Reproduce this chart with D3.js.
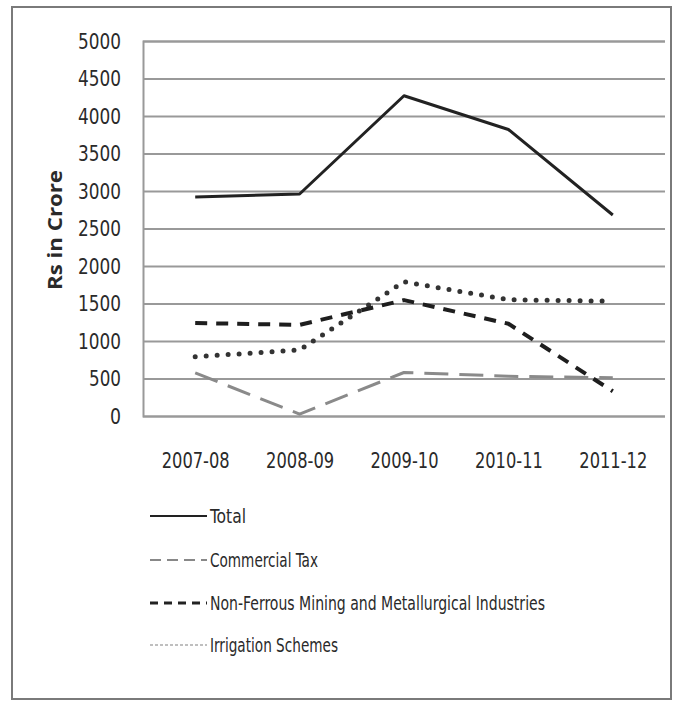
<!DOCTYPE html>
<html>
<head>
<meta charset="utf-8">
<script src="https://cdn.jsdelivr.net/npm/d3@7"></script>
<style>
  body { margin: 0; background: #fff; }
  svg { display: block; }
</style>
</head>
<body>
<div id="chart"></div>
<script>
// Years on the x axis
const years = ["2007-08", "2008-09", "2009-10", "2010-11", "2011-12"];

// Series values (Rs in Crore)
const total = [2920, 2960, 4270, 3820, 2680];
const commercialTax = [575, 25, 580, 530, 510];
const nonFerrous = [1240, 1215, 1545, 1230, 330];
const irrigation = [790, 880, 1790, 1550, 1530];

// Y tick labels
const yTicks = [0, 500, 1000, 1500, 2000, 2500, 3000, 3500, 4000, 4500, 5000];

// Legend labels
const seriesNames = ["Total", "Commercial Tax", "Non-Ferrous Mining and Metallurgical Industries", "Irrigation Schemes"];

const svgWidth = 674;
const svgHeight = 701;
const narrow = "'DejaVu Sans Condensed', 'Liberation Sans Narrow', sans-serif";

// plot box
const plot = { left: 143, right: 665, top: 41, bottom: 416 };

const svg = d3.select("#chart").append("svg")
  .attr("width", svgWidth)
  .attr("height", svgHeight);

// outer frame
svg.append("rect")
  .attr("x", 12).attr("y", 7)
  .attr("width", 659).attr("height", 692)
  .attr("fill", "#fff")
  .attr("stroke", "#7a7a7a")
  .attr("stroke-width", 2);

const x = d3.scalePoint().domain(years).range([plot.left, plot.right]).padding(0.5);
const y = d3.scaleLinear().domain([0, 5000]).range([plot.bottom, plot.top]);

// gridlines + y labels
const yAxis = d3.axisLeft(y)
  .tickValues(yTicks)
  .tickSize(-(plot.right - plot.left))
  .tickPadding(22)
  .tickFormat(d3.format("d"));

const gy = svg.append("g")
  .attr("transform", "translate(" + plot.left + ",0)")
  .call(yAxis);
gy.select(".domain").attr("stroke", "#999").attr("stroke-width", 2);
gy.selectAll(".tick line").attr("stroke", "#999").attr("stroke-width", 2);
gy.selectAll(".tick text")
  .attr("fill", "#2a2a2a")
  .attr("textLength", function(d) { return d < 10 ? 11 : d < 1000 ? 32 : 43; })
  .attr("lengthAdjust", "spacingAndGlyphs")
  .style("font", "22px " + narrow);

// x labels
const xAxis = d3.axisBottom(x).tickSize(0).tickPadding(36);
const gx = svg.append("g")
  .attr("transform", "translate(0," + plot.bottom + ")")
  .call(xAxis);
gx.select(".domain").remove();
gx.selectAll(".tick text")
  .attr("fill", "#2a2a2a")
  .attr("textLength", 68)
  .attr("lengthAdjust", "spacingAndGlyphs")
  .style("font", "22px " + narrow);

// y axis title
svg.append("text")
  .attr("transform", "translate(62,230) rotate(-90)")
  .attr("text-anchor", "middle")
  .attr("fill", "#2a2a2a")
  .attr("textLength", 120)
  .attr("lengthAdjust", "spacingAndGlyphs")
  .style("font", "bold 20px 'Open Sans', sans-serif")
  .text("Rs in Crore");

// line styles
const styles = [
  { color: "#222", width: 3, dash: null, cap: "butt" },
  { color: "#8a8a8a", width: 3, dash: "24,11", cap: "butt" },
  { color: "#1e1e1e", width: 4, dash: "12,9", cap: "butt" },
  { color: "#333", width: 5, dash: "0,11", cap: "round" }
];
const allSeries = [total, commercialTax, nonFerrous, irrigation];

const line = d3.line()
  .x(function(d, i) { return x(years[i]); })
  .y(function(d) { return y(d); });

// draw in order so total sits on top
[1, 3, 2, 0].forEach(function(k) {
  svg.append("path")
    .datum(allSeries[k])
    .attr("d", line)
    .attr("fill", "none")
    .attr("stroke", styles[k].color)
    .attr("stroke-width", styles[k].width)
    .attr("stroke-dasharray", styles[k].dash)
    .attr("stroke-linecap", styles[k].cap)
    .attr("stroke-linejoin", "round");
});

// legend
const legendStyles = [
  { color: "#222", width: 2, dash: null },
  { color: "#888", width: 2, dash: "11,6" },
  { color: "#222", width: 3, dash: "8,6" },
  { color: "#aaa", width: 1.5, dash: "3,2" }
];
const legendY = [516, 560, 603, 645];
const legendLen = [36, 108, 335, 128];

const legend = svg.append("g");
seriesNames.forEach(function(name, i) {
  legend.append("line")
    .attr("x1", 150).attr("x2", 207)
    .attr("y1", legendY[i]).attr("y2", legendY[i])
    .attr("stroke", legendStyles[i].color)
    .attr("stroke-width", legendStyles[i].width)
    .attr("stroke-dasharray", legendStyles[i].dash);
  legend.append("text")
    .attr("x", 210)
    .attr("y", legendY[i] + 7)
    .attr("fill", "#2a2a2a")
    .attr("textLength", legendLen[i])
    .attr("lengthAdjust", "spacingAndGlyphs")
    .style("font", "20px " + narrow)
    .text(name);
});
</script>
</body>
</html>
